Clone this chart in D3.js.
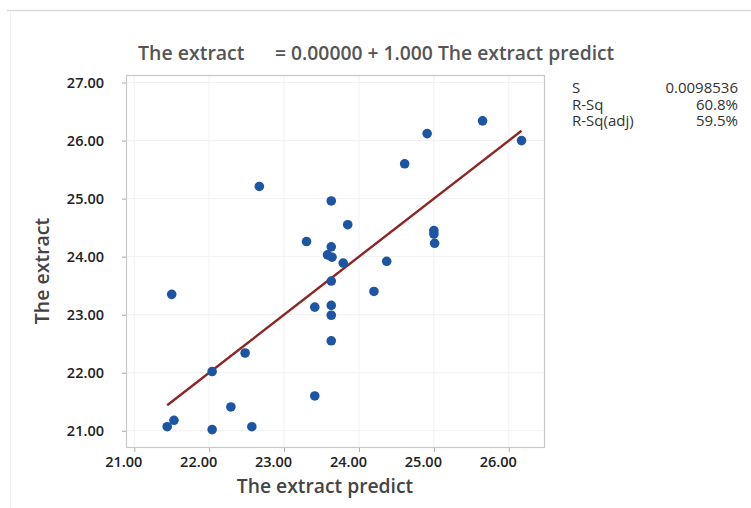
<!DOCTYPE html>
<html>
<head>
<meta charset="utf-8">
<script src="https://cdn.jsdelivr.net/npm/d3@7"></script>
<style>
  body { margin: 0; background: #fff; }
  svg { display: block; font-family: "Open Sans", sans-serif; }
</style>
</head>
<body>
<div id="chart"></div>
<script>
// fitted line plot - the extract vs the extract predict

const predicted = [21.50, 21.44, 21.53, 22.04, 22.04, 22.29, 22.48, 22.57, 22.67, 23.30,
  23.41, 23.41, 23.63, 23.63, 23.58, 23.64, 23.63, 23.63, 23.63, 23.63,
  23.79, 23.85, 24.20, 24.37, 24.61, 24.91, 25.00, 25.00, 25.01, 25.65, 26.17];
const extract = [23.35, 21.07, 21.18, 22.02, 21.02, 21.41, 22.34, 21.07, 25.21, 24.26,
  23.13, 21.60, 24.96, 24.17, 24.03, 23.99, 23.58, 23.16, 22.99, 22.55,
  23.89, 24.55, 23.40, 23.92, 25.60, 26.12, 24.45, 24.39, 24.23, 26.34, 26.00];

const fit = [0.0, 1.0]; // intercept, slope
const xTicks = [21, 22, 23, 24, 25, 26];
const yTicks = [21, 22, 23, 24, 25, 26, 27];
const statNames = ["S", "R-Sq", "R-Sq(adj)"];
const statValues = ["0.0098536", "60.8%", "59.5%"];

const W = 751, H = 508;
const svg = d3.select("#chart").append("svg").attr("width", W).attr("height", H);

// outer panel edge (top + faint left)
svg.append("line").attr("x1", 7).attr("x2", W).attr("y1", 10.5).attr("y2", 10.5)
  .attr("stroke", "#d9d9d9").attr("stroke-width", 1.5);
svg.append("line").attr("x1", 10.5).attr("x2", 10.5).attr("y1", 11).attr("y2", H)
  .attr("stroke", "#f0f0f0");

const frame = { left: 126, right: 544, top: 75, bottom: 447 };

const x = d3.scaleLinear().domain([20.89, 26.47]).range([frame.left, frame.right]);
const y = d3.scaleLinear().domain([20.72, 27.13]).range([frame.bottom, frame.top]);

// grid
svg.append("g").selectAll("line").data(xTicks).enter().append("line")
  .attr("x1", d => x(d)).attr("x2", d => x(d))
  .attr("y1", frame.top).attr("y2", frame.bottom)
  .attr("stroke", "#f1f1f1");
svg.append("g").selectAll("line").data(yTicks).enter().append("line")
  .attr("x1", frame.left).attr("x2", frame.right)
  .attr("y1", d => y(d)).attr("y2", d => y(d))
  .attr("stroke", "#f1f1f1");

// frame
svg.append("rect")
  .attr("x", frame.left + 0.5).attr("y", frame.top + 0.5)
  .attr("width", frame.right - frame.left).attr("height", frame.bottom - frame.top)
  .attr("fill", "none").attr("stroke", "#c8c8c8").attr("stroke-width", 1.2);

// axes
const xAxis = svg.append("g").attr("transform", `translate(0,${frame.bottom + 1})`)
  .call(d3.axisBottom(x).tickValues(xTicks).tickFormat(d3.format(".2f")).tickSize(4).tickPadding(5));
xAxis.selectAll("text").attr("dx", -11);

const yAxis = svg.append("g").attr("transform", `translate(${frame.left},0)`)
  .call(d3.axisLeft(y).tickValues(yTicks).tickFormat(d3.format(".2f")).tickSize(4).tickPadding(18));

[xAxis, yAxis].forEach(a => {
  a.select(".domain").remove();
  a.selectAll("line").attr("stroke", "#aaa");
  a.selectAll("text").attr("fill", "#222")
    .style("font-size", "14.5px").style("font-weight", "600")
    .style("font-family", "'Open Sans', sans-serif");
});

// fitted line over range of predicted
const xr = d3.extent(predicted);
svg.append("line")
  .attr("x1", x(xr[0])).attr("y1", y(fit[0] + fit[1] * xr[0]))
  .attr("x2", x(xr[1])).attr("y2", y(fit[0] + fit[1] * xr[1]))
  .attr("stroke", "#8e2424").attr("stroke-width", 2.4);

// points
svg.append("g").selectAll("circle")
  .data(predicted.map((p, i) => [p, extract[i]]))
  .enter().append("circle")
  .attr("cx", d => x(d[0])).attr("cy", d => y(d[1]))
  .attr("r", 4.8)
  .attr("fill", "#1c55a3");

// title
svg.append("text").attr("x", 138).attr("y", 60)
  .text("The extract")
  .style("font-size", "19.5px").style("font-weight", "600").attr("fill", "#555");
svg.append("text").attr("x", 275).attr("y", 60)
  .text("= 0.00000 + 1.000 The extract predict")
  .style("font-size", "19.3px").style("font-weight", "600").attr("fill", "#555");

// axis titles
svg.append("text").attr("x", 325).attr("y", 493).attr("text-anchor", "middle")
  .text("The extract predict")
  .style("font-size", "19.3px").style("font-weight", "600").attr("fill", "#444");
svg.append("text").attr("transform", "translate(49,271) rotate(-90)")
  .attr("text-anchor", "middle")
  .text("The extract")
  .style("font-size", "19.5px").style("font-weight", "600").attr("fill", "#444");

// summary table
statNames.forEach((n, i) => {
  svg.append("text").attr("x", 572).attr("y", 93 + i * 16.5)
    .text(n).style("font-size", "15px").attr("fill", "#333");
  svg.append("text").attr("x", 738).attr("y", 93 + i * 16.5).attr("text-anchor", "end")
    .text(statValues[i]).style("font-size", "15px").attr("fill", "#333");
});
</script>
</body>
</html>
